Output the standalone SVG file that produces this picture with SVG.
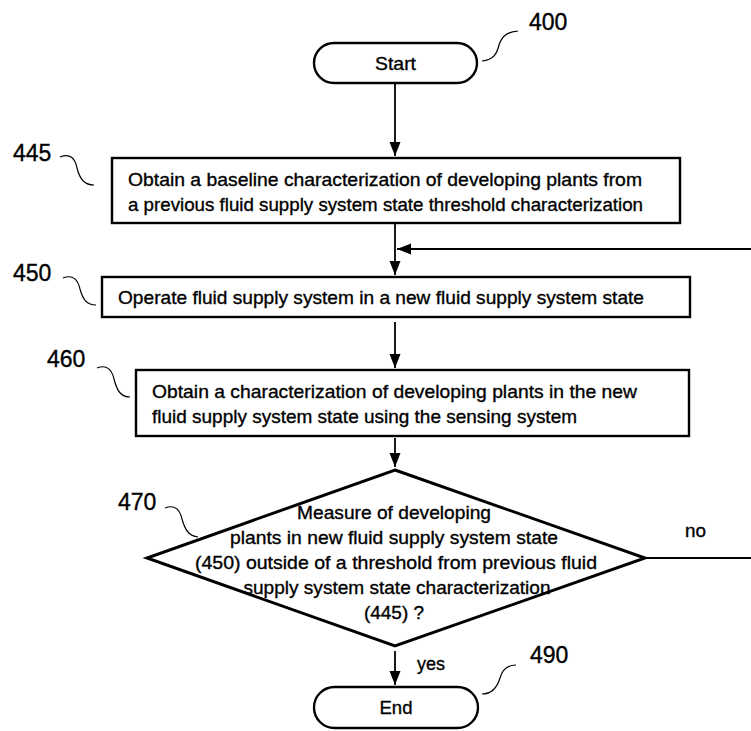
<svg xmlns="http://www.w3.org/2000/svg" width="751" height="731" viewBox="0 0 751 731">
<defs>
<marker id="ah" viewBox="0 0 14 12" refX="14" refY="6" markerWidth="14" markerHeight="12" markerUnits="userSpaceOnUse" orient="auto">
<path d="M0,0.5 L14,6 L0,11.5 Z" fill="#000"/>
</marker>
<style>
text{font-family:"Liberation Sans",Arial,sans-serif;fill:#000;stroke:#000;stroke-width:0.35}
.t{font-size:19px}
.lbl{font-size:23px}
.box{fill:#fff;stroke:#000;stroke-width:2.4}
.dia{fill:#fff;stroke:#000;stroke-width:3}
.con{fill:none;stroke:#000;stroke-width:1.8}
.ld{fill:none;stroke:#000;stroke-width:1.2}
</style>
</defs>
<rect width="751" height="731" fill="#fff"/>

<g id="connectors">
<line class="con" x1="395" y1="84" x2="395" y2="156" marker-end="url(#ah)"/>
<line class="con" x1="395" y1="224" x2="395" y2="275" marker-end="url(#ah)"/>
<line class="con" x1="751" y1="249" x2="397" y2="249" marker-end="url(#ah)"/>
<line class="con" x1="395" y1="322" x2="395" y2="368" marker-end="url(#ah)"/>
<line class="con" x1="395" y1="438" x2="395" y2="467" marker-end="url(#ah)"/>
<line class="con" x1="645" y1="558" x2="751" y2="558"/>
<line class="con" x1="395" y1="651" x2="395" y2="685" marker-end="url(#ah)"/>
<text class="t" x="685" y="537" textLength="21" lengthAdjust="spacingAndGlyphs">no</text>
<text class="t" x="417" y="670" textLength="28" lengthAdjust="spacingAndGlyphs">yes</text>
</g>

<g id="n400">
<rect class="box" x="314" y="43" width="163" height="40" rx="20" ry="20"/>
<text class="t" x="395.5" y="70" text-anchor="middle" textLength="41" lengthAdjust="spacingAndGlyphs">Start</text>
<path class="ld" d="M482,61 C494,60 497,53 499,45 C502,36 507,32 518,31"/>
<text class="lbl" x="529" y="30">400</text>
</g>

<g id="n445">
<rect class="box" x="112" y="158" width="568" height="65"/>
<text class="t" x="128" y="186" textLength="514" lengthAdjust="spacingAndGlyphs">Obtain a baseline characterization of developing plants from</text>
<text class="t" x="128" y="211" textLength="515" lengthAdjust="spacingAndGlyphs">a previous fluid supply system state threshold characterization</text>
<path class="ld" d="M60,157 C70,153 75,158 77,168 C80,180 85,185 94,185"/>
<text class="lbl" x="13" y="161">445</text>
</g>

<g id="n450">
<rect class="box" x="102" y="277" width="588" height="40"/>
<text class="t" x="118" y="304" textLength="526" lengthAdjust="spacingAndGlyphs">Operate fluid supply system in a new fluid supply system state</text>
<path class="ld" d="M63,278 C73,274 78,280 80,289 C83,300 87,305 96,305"/>
<text class="lbl" x="13" y="281">450</text>
</g>

<g id="n460">
<rect class="box" x="136" y="370" width="553" height="66"/>
<text class="t" x="152" y="398" textLength="485" lengthAdjust="spacingAndGlyphs">Obtain a characterization of developing plants in the new</text>
<text class="t" x="152" y="423" textLength="425" lengthAdjust="spacingAndGlyphs">fluid supply system state using the sensing system</text>
<path class="ld" d="M97,368 C107,364 112,370 114,379 C117,391 121,397 130,397"/>
<text class="lbl" x="47" y="367">460</text>
</g>

<g id="n470">
<polygon class="dia" points="395,470 645,558 395,646 147,558"/>
<text class="t" x="394" y="519" text-anchor="middle" textLength="194" lengthAdjust="spacingAndGlyphs">Measure of developing</text>
<text class="t" x="394" y="544" text-anchor="middle" textLength="328" lengthAdjust="spacingAndGlyphs">plants in new fluid supply system state</text>
<text class="t" x="396" y="569" text-anchor="middle" textLength="402" lengthAdjust="spacingAndGlyphs">(450) outside of a threshold from previous fluid</text>
<text class="t" x="397" y="594" text-anchor="middle" textLength="307" lengthAdjust="spacingAndGlyphs">supply system state characterization</text>
<text class="t" x="394" y="619" text-anchor="middle" textLength="60" lengthAdjust="spacingAndGlyphs">(445) ?</text>
<path class="ld" d="M165,508 C175,504 180,510 182,519 C185,530 189,536 198,537"/>
<text class="lbl" x="118" y="510">470</text>
</g>

<g id="n490">
<rect class="box" x="314" y="687" width="164" height="41" rx="20.5" ry="20.5"/>
<text class="t" x="396" y="714" text-anchor="middle" textLength="33" lengthAdjust="spacingAndGlyphs">End</text>
<path class="ld" d="M516,665 C506,665 502,671 500,678 C497,688 492,694 482,694"/>
<text class="lbl" x="530" y="663">490</text>
</g>
</svg>
